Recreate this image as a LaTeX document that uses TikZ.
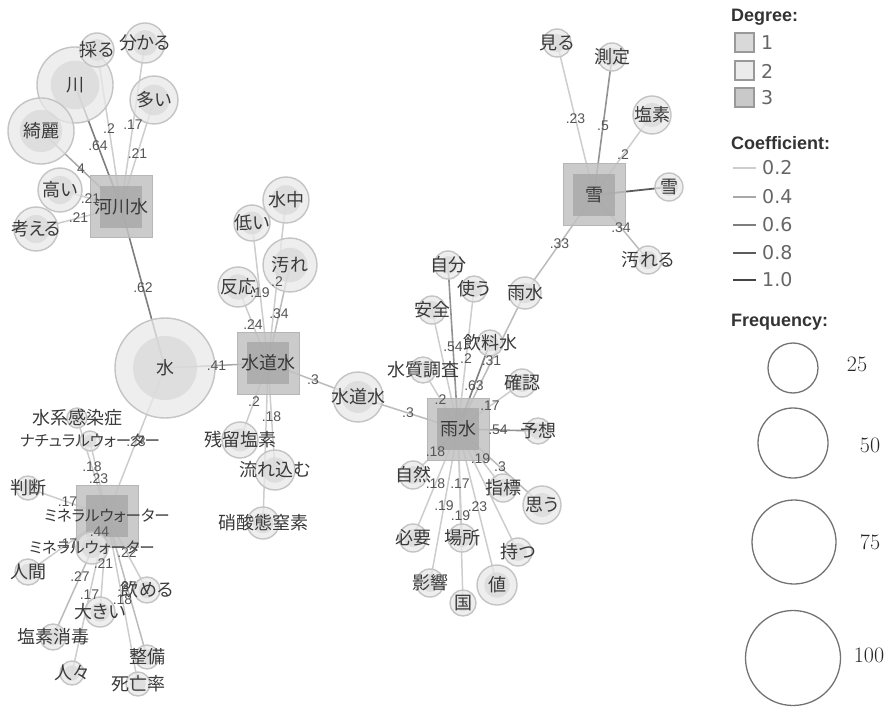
\documentclass[tikz,border=0pt]{standalone}
\usepackage{fontspec}
\newfontfamily\jp[RawFeature=+palt]{Noto Sans CJK JP}
\newfontfamily\lsans{Liberation Sans}
\newfontfamily\dvs{DejaVu Sans}
\usetikzlibrary{backgrounds}
\definecolor{wfill}{HTML}{E8E8E8}
\definecolor{winner}{HTML}{D9D9D9}
\definecolor{wdraw}{HTML}{C4C4C4}
\definecolor{hubout}{HTML}{C2C2C2}
\definecolor{hubin}{HTML}{A9A9A9}
\definecolor{hubdraw}{HTML}{B6B6B6}
\definecolor{txt}{HTML}{3A3A3A}
\definecolor{elabc}{HTML}{555555}
\definecolor{ec2}{HTML}{CDCDCD}
\definecolor{ec3}{HTML}{BBBBBB}
\definecolor{ec4}{HTML}{A8A8A8}
\definecolor{ec5}{HTML}{939393}
\definecolor{ec6}{HTML}{7E7E7E}
\definecolor{ec8}{HTML}{5C5C5C}
\definecolor{ec10}{HTML}{444444}
\definecolor{deg1}{HTML}{D9D9D9}
\definecolor{deg2}{HTML}{EBEBEB}
\definecolor{deg3}{HTML}{C9C9C9}
\tikzset{
  jplab/.style={font=\jp\fontsize{18}{18}\selectfont, text=txt, inner sep=0pt},
  kana/.style={font=\jp\fontsize{15.5}{16}\selectfont},
  elab/.style={font=\lsans\fontsize{14}{14}\selectfont, text=elabc, inner sep=0pt},
  word/.style={circle, draw=wdraw, line width=1.4pt, fill=wfill, fill opacity=0.75, inner sep=0pt, outer sep=0pt},
  hubst/.style={rectangle, draw=hubdraw, line width=1pt, fill=hubout, fill opacity=0.85, minimum size=62pt, inner sep=0pt, outer sep=0pt,
    path picture={\fill[hubin] ([shift={(-21pt,-21pt)}]path picture bounding box.center) rectangle ++(42pt,42pt);}},
  c2/.style={draw=ec2, line width=1.5pt},
  c3/.style={draw=ec3, line width=1.5pt},
  c4/.style={draw=ec4, line width=1.5pt},
  c5/.style={draw=ec5, line width=1.6pt},
  c6/.style={draw=ec6, line width=1.6pt},
  c8/.style={draw=ec8, line width=1.8pt},
  c10/.style={draw=ec10, line width=1.8pt},
  lhead/.style={font=\lsans\bfseries\fontsize{18}{18}\selectfont, text=black!80, inner sep=0pt, anchor=west},
  ltxt/.style={font=\dvs\fontsize{19}{19}\selectfont, text=black!60, inner sep=0pt, anchor=west},
  dsq/.style={rectangle, draw=black!40, line width=1.2pt, minimum size=19pt, inner sep=0pt},
  fcirc/.style={circle, draw=black!55, line width=1.3pt, inner sep=0pt},
  flab/.style={font=\fontsize{22}{22}\selectfont, text=black!85, inner sep=0pt}
}
\newcommand{\wn}[6][]{\node[word, minimum size={#5*2pt},
  path picture={\fill[winner] (path picture bounding box.center) circle[radius={#5*0.64pt}];},
  label={[jplab,#1]center:#6}] (#2) at (#3,#4) {};}
\newcommand{\hubn}[5][]{\node[hubst, label={[jplab,#1]center:#5}] (#2) at (#3,#4) {};}
\newcommand{\ed}[4]{%
  \begin{pgfonlayer}{background}\draw[#1] (#2.center) -- (#3.center);\end{pgfonlayer}%
  \path (#2.center) -- node[elab]{#4} (#3.center);}
\begin{document}
\begin{tikzpicture}[x=1pt,y=-1pt]
\useasboundingbox (0,0) rectangle (890,708);
% hubs
\hubn{hK}{121}{207}{河川水}
\hubn{hD}{268}{363}{水道水}
\hubn[kana]{hM}{107}{516}{ミネラルウォーター}
\hubn{hU}{458}{429}{雨水}
\hubn{hY}{594}{195}{雪}
% word nodes
\wn{kawa}{75}{85}{38}{川}
\wn{toru}{97}{50}{17}{採る}
\wn{wakaru}{145}{43}{20}{分かる}
\wn{ooi}{154}{100}{24}{多い}
\wn{kirei}{41}{131}{33}{綺麗}
\wn{takai}{60}{190}{22}{高い}
\wn{kangae}{36}{229}{22}{考える}
\wn{mizu}{165}{368}{50}{水}
\wn{hanno}{238}{287}{20}{反応}
\wn{hikui}{252}{223}{18}{低い}
\wn{suichu}{286}{200}{23}{水中}
\wn{yogore}{290}{265}{27}{汚れ}
\wn{zanryu}{240}{440}{18}{残留塩素}
\wn{nagare}{275}{470}{20}{流れ込む}
\wn{shosan}{263}{523}{16}{硝酸態窒素}
\wn{suido}{358}{397}{25}{水道水}
\wn{suikei}{77}{418}{10}{水系感染症}
\wn[kana]{natural}{90}{441}{10}{ナチュラルウォーター}
\wn{handan}{28}{488}{12}{判断}
\wn[kana]{mineral}{92}{548}{16}{ミネラルウォーター}
\wn{ningen}{28}{572}{13}{人間}
\wn{enso}{53}{637}{13}{塩素消毒}
\wn{ookii}{100}{612}{15}{大きい}
\wn{hitobito}{72}{673}{12}{人々}
\wn{nomeru}{147}{590}{13}{飲める}
\wn{seibi}{147}{657}{12}{整備}
\wn{shibou}{138}{684}{12}{死亡率}
\wn{jibun}{448}{265}{14}{自分}
\wn{tsukau}{474}{289}{13}{使う}
\wn{anzen}{432}{310}{14}{安全}
\wn{suishitsu}{423}{370}{13}{水質調査}
\wn{inryo}{490}{343}{13}{飲料水}
\wn{usui}{525}{293}{16}{雨水}
\wn{kakunin}{522}{383}{14}{確認}
\wn{yoso}{538}{431}{13}{予想}
\wn{shizen}{413}{475}{14}{自然}
\wn{hitsuyo}{413}{538}{14}{必要}
\wn{basho}{462}{538}{14}{場所}
\wn{eikyo}{430}{583}{14}{影響}
\wn{kuni}{463}{603}{13}{国}
\wn{atai}{497}{585}{20}{値}
\wn{shihyo}{503}{488}{14}{指標}
\wn{omou}{542}{505}{19}{思う}
\wn{motsu}{518}{552}{14}{持つ}
\wn{miru}{557}{43}{14}{見る}
\wn{sokutei}{612}{57}{14}{測定}
\wn{enso2}{652}{115}{19}{塩素}
\wn{yuki}{669}{187}{14}{雪}
\wn{yogoreru}{648}{260}{14}{汚れる}
% edges
\ed{c6}{hK}{kawa}{.64}
\ed{c2}{hK}{toru}{.2}
\ed{c2}{hK}{wakaru}{.17}
\ed{c2}{hK}{ooi}{.21}
\ed{c4}{hK}{kirei}{4}
\ed{c2}{hK}{takai}{.21}
\ed{c2}{hK}{kangae}{.21}
\ed{c6}{hK}{mizu}{.62}
\ed{c4}{mizu}{hD}{.41}
\ed{c2}{mizu}{hM}{.23}
\ed{c2}{hD}{hanno}{.24}
\ed{c2}{hD}{hikui}{.19}
\ed{c2}{hD}{suichu}{.2}
\ed{c3}{hD}{yogore}{.34}
\ed{c2}{hD}{zanryu}{.2}
\ed{c2}{hD}{nagare}{.18}
\ed{c2}{hD}{shosan}{}
\ed{c3}{hD}{suido}{.3}
\ed{c3}{suido}{hU}{.3}
\ed{c2}{hM}{suikei}{.18}
\ed{c2}{hM}{natural}{.23}
\ed{c2}{hM}{handan}{.17}
\ed{c4}{hM}{mineral}{.44}
\ed{c2}{hM}{ningen}{.17}
\ed{c3}{hM}{enso}{.27}
\ed{c2}{hM}{ookii}{.21}
\ed{c2}{hM}{hitobito}{.17}
\ed{c2}{hM}{nomeru}{.22}
\ed{c3}{hM}{seibi}{.27}
\ed{c2}{hM}{shibou}{.18}
\ed{c5}{hU}{jibun}{.54}
\ed{c2}{hU}{tsukau}{.2}
\ed{c2}{hU}{anzen}{}
\ed{c2}{hU}{suishitsu}{.2}
\ed{c6}{hU}{inryo}{.63}
\ed{c3}{hU}{usui}{.31}
\ed{c2}{hU}{kakunin}{.17}
\ed{c5}{hU}{yoso}{.54}
\ed{c2}{hU}{shizen}{.18}
\ed{c2}{hU}{hitsuyo}{.18}
\ed{c2}{hU}{basho}{.17}
\ed{c2}{hU}{eikyo}{.19}
\ed{c2}{hU}{kuni}{.19}
\ed{c2}{hU}{atai}{.23}
\ed{c2}{hU}{shihyo}{.19}
\ed{c3}{hU}{omou}{.3}
\ed{c2}{hU}{motsu}{}
\ed{c3}{usui}{hY}{.33}
\ed{c2}{hY}{miru}{.23}
\ed{c5}{hY}{sokutei}{.5}
\ed{c2}{hY}{enso2}{.2}
\ed{c8}{hY}{yuki}{}
\ed{c3}{hY}{yogoreru}{.34}
% legend: degree
\node[lhead] (lgdeg) at (731,17) {Degree:};
\node[dsq, fill=deg1] (d1) at (744.5,42.5) {};
\node[ltxt] (d1t) at (761,43) {1};
\node[dsq, fill=deg2] (d2) at (744.5,70.5) {};
\node[ltxt] (d2t) at (761,71) {2};
\node[dsq, fill=deg3] (d3) at (744.5,97.5) {};
\node[ltxt] (d3t) at (761,98) {3};
% legend: coefficient
\node[lhead] (lgco) at (731,143) {Coefficient:};
\coordinate (k2a) at (733,168); \coordinate (k2b) at (756,168);
\coordinate (k4a) at (733,197); \coordinate (k4b) at (756,197);
\coordinate (k6a) at (733,225); \coordinate (k6b) at (756,225);
\coordinate (k8a) at (733,253); \coordinate (k8b) at (756,253);
\coordinate (k10a) at (733,280); \coordinate (k10b) at (756,280);
\draw[c2] (k2a) -- (k2b);
\draw[c4] (k4a) -- (k4b);
\draw[c6] (k6a) -- (k6b);
\draw[c8] (k8a) -- (k8b);
\draw[c10] (k10a) -- (k10b);
\node[ltxt] (k2t) at (762,168) {0.2};
\node[ltxt] (k4t) at (762,197) {0.4};
\node[ltxt] (k6t) at (762,225) {0.6};
\node[ltxt] (k8t) at (762,253) {0.8};
\node[ltxt] (k10t) at (762,280) {1.0};
% legend: frequency
\node[lhead] (lgfr) at (731,322) {Frequency:};
\node[fcirc, minimum size=50pt] (f25) at (793,368) {};
\node[fcirc, minimum size=70pt] (f50) at (793,443) {};
\node[fcirc, minimum size=84pt] (f75) at (794,542) {};
\node[fcirc, minimum size=95pt] (f100) at (793,658) {};
\node[flab] (f25t) at (857,364) {25};
\node[flab] (f50t) at (870,445) {50};
\node[flab] (f75t) at (870,542) {75};
\node[flab] (f100t) at (869,655) {100};
\end{tikzpicture}
\end{document}
